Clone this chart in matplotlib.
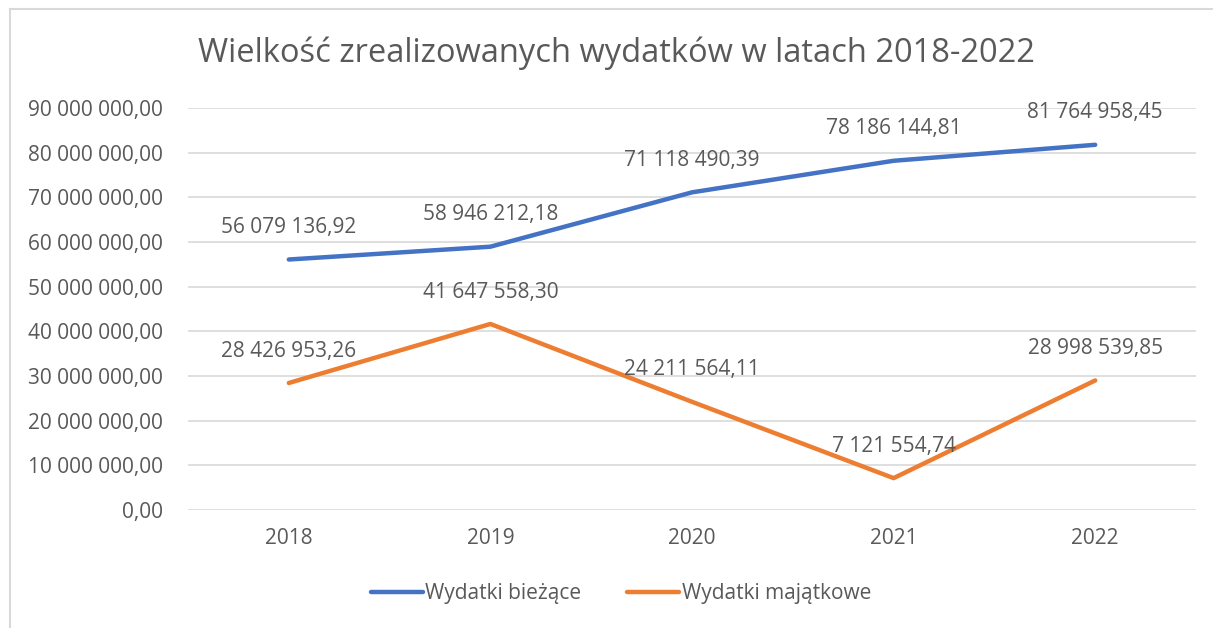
import matplotlib.pyplot as plt
from matplotlib.lines import Line2D

years = ['2018', '2019', '2020', '2021', '2022']
biezace = [56079136.92, 58946212.18, 71118490.39, 78186144.81, 81764958.45]
majatkowe = [28426953.26, 41647558.30, 24211564.11, 7121554.74, 28998539.85]
series_names = ['Wydatki bieżące', 'Wydatki majątkowe']
yticks = [0, 10e6, 20e6, 30e6, 40e6, 50e6, 60e6, 70e6, 80e6, 90e6]

text_col = '#595959'
blue = '#4472C4'
orange = '#ED7D31'
plt.rcParams['font.family'] = ['Open Sans', 'DejaVu Sans']


def fmt(v):
    s = f'{v:,.2f}'
    return s.replace(',', ' ').replace('.', ',')


fig = plt.figure(figsize=(12.13, 6.28), dpi=100)
ax = fig.add_axes([0.155, 0.188, 0.831, 0.640])

x = list(range(len(years)))
ax.plot(x, biezace, color=blue, lw=3.2, solid_capstyle='round')
ax.plot(x, majatkowe, color=orange, lw=3.2, solid_capstyle='round')

for xi, v in zip(x, biezace):
    ax.annotate(fmt(v), (xi, v), xytext=(0, 23), textcoords='offset points',
                ha='center', va='center', fontsize=15, color=text_col)
for xi, v in zip(x, majatkowe):
    ax.annotate(fmt(v), (xi, v), xytext=(0, 23), textcoords='offset points',
                ha='center', va='center', fontsize=15, color=text_col)

ax.set_xlim(-0.5, len(years) - 0.5)
ax.set_ylim(0, 90e6)
ax.set_yticks(yticks)
ax.set_yticklabels([fmt(t) for t in yticks])
ax.set_xticks(x)
ax.set_xticklabels(years)
ax.tick_params(axis='both', length=0, labelsize=15, labelcolor=text_col)
ax.tick_params(axis='y', pad=18)
ax.tick_params(axis='x', pad=13)
ax.grid(axis='y', color='#D9D9D9', lw=1.2)
ax.set_axisbelow(True)
for sp in ax.spines.values():
    sp.set_visible(False)

fig.text(0.508, 0.915, 'Wielkość zrealizowanych wydatków w latach 2018-2022',
         ha='center', va='center', fontsize=23.5, color=text_col)

handles = [Line2D([], [], color=blue, lw=3.2, solid_capstyle='round'),
           Line2D([], [], color=orange, lw=3.2, solid_capstyle='round')]
fig.legend(handles, series_names, loc='center', bbox_to_anchor=(0.512, 0.055),
           ncol=2, frameon=False, fontsize=15, labelcolor=text_col,
           handlelength=2.5, handletextpad=0.1, columnspacing=2.2)

# outer chart frame
fig.add_artist(Line2D([0.0085, 1.0], [0.985, 0.985], color='#D9D9D9', lw=1.5,
                      transform=fig.transFigure))
fig.add_artist(Line2D([0.0085, 0.0085], [0.0, 0.985], color='#D9D9D9', lw=1.5,
                      transform=fig.transFigure))

fig.savefig('out.png', dpi=100)
